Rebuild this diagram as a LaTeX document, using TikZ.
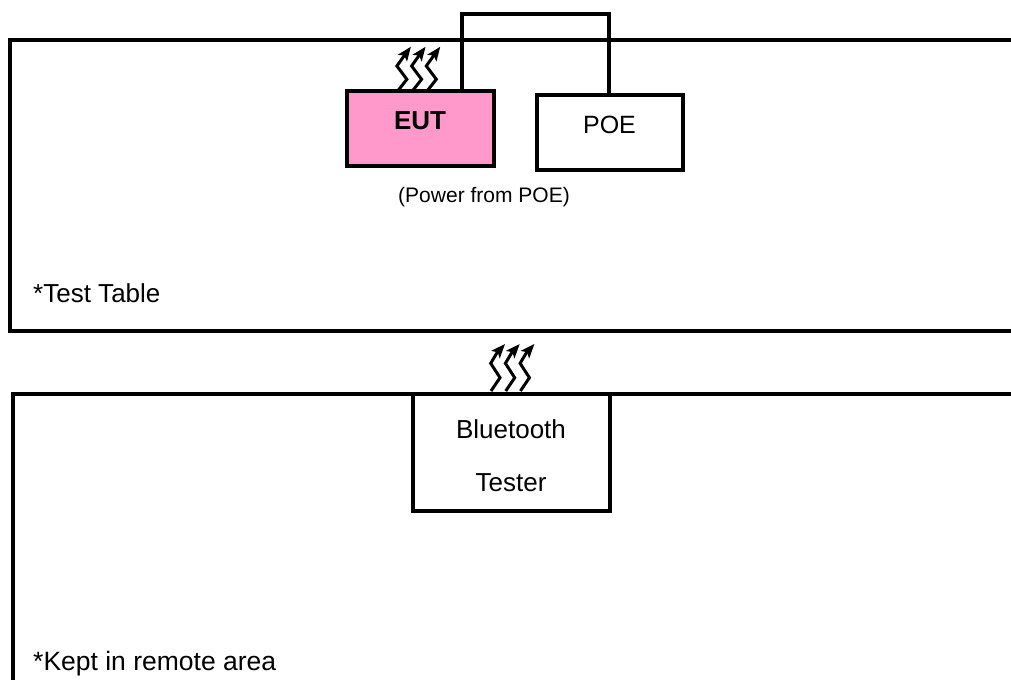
\documentclass[tikz,border=0pt]{standalone}
\usepackage{fontspec}
\setmainfont{Liberation Sans}
\usetikzlibrary{arrows.meta}
\tikzset{
  outline/.style={line width=4pt,draw=black,line join=miter},
  boxshape/.style={draw=black,line width=4pt,inner sep=0pt,outer sep=0pt,anchor=north west},
  wire/.style={line width=3.8pt,draw=black,line join=miter},
  wave/.style={line width=3pt,draw=black,line join=miter,-{Stealth[length=14pt,width=11pt,inset=3pt]}},
  txt/.style={inner sep=0pt,text=black,font=\fontsize{26}{26}\selectfont,anchor=base},
  small/.style={inner sep=0pt,text=black,font=\fontsize{21}{21}\selectfont,anchor=base}
}
\definecolor{eutpink}{RGB}{255,153,204}
\newcommand{\waveup}[1]{\draw[wave] (#1) -- ++(8.4,-10.7) -- ++(-10,-13.3) -- ++(6.6,-9.3) -- ++(7.4,-10);}
\newcommand{\wavelow}[1]{\draw[wave] (#1) -- ++(9,-13.3) -- ++(-9.3,-14.4) -- ++(6,-10) -- ++(8.3,-9.3);}
\begin{document}
\begin{tikzpicture}[x=1pt,y=-1pt]
\useasboundingbox (0,0) rectangle (1011,680);
\fill[white] (0,0) rectangle (1011,680);
% tables
\coordinate (tr) at (1011,39.5);
\coordinate (tl) at (10,39.5);
\coordinate (bl) at (10,331);
\coordinate (br) at (1011,331);
\draw[outline] (tr) -- (tl) -- (bl) -- (br);
\coordinate (rr) at (1011,393.5);
\coordinate (rl) at (13,393.5);
\coordinate (rb) at (13,680);
\draw[outline] (rr) -- (rl) -- (rb);
% boxes
\node[boxshape,fill=eutpink,minimum width=147pt,minimum height=75pt] (eut) at (347.3,91.3) {};
\node[boxshape,fill=white,minimum width=146.5pt,minimum height=74.5pt] (poe) at (536.7,95.3) {};
\node[boxshape,fill=white,minimum width=197pt,minimum height=117.5pt] (tester) at (413,393.5) {};
% connector
\coordinate (c1) at (462.3,13.7);
\coordinate (c2) at (609.3,13.7);
\draw[wire] (c1 |- eut.north) -- (c1) -- (c2) -- (c2 |- poe.north);
% waves
\coordinate (w1) at (398.5,90);
\coordinate (w2) at (413.2,90);
\coordinate (w3) at (427.9,90);
\coordinate (w4) at (491,391);
\coordinate (w5) at (505.7,391);
\coordinate (w6) at (520.4,391);
\waveup{w1}\waveup{w2}\waveup{w3}
\wavelow{w4}\wavelow{w5}\wavelow{w6}
% texts
\node[txt,font=\fontsize{26}{26}\selectfont\bfseries] (eutl) at (420,129) {EUT};
\node[txt,font=\fontsize{25}{25}\selectfont] (poel) at (609.5,133) {POE};
\node[small] (pwr) at (484,202) {(Power from POE)};
\node[txt,anchor=base west] (tt) at (33,302) {*Test Table};
\node[txt] (bt) at (511,438) {Bluetooth};
\node[txt] (tst) at (511,491) {Tester};
\node[txt,font=\fontsize{26.5}{26.5}\selectfont,anchor=base west] (kr) at (33,670.5) {*Kept in remote area};
\end{tikzpicture}
\end{document}
